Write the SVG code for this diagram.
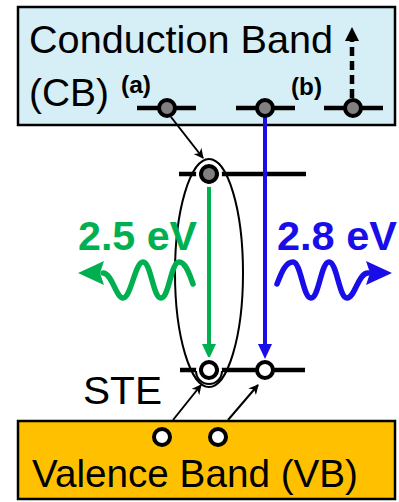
<svg xmlns="http://www.w3.org/2000/svg" width="399" height="502" viewBox="0 0 399 502">
<style>
.lbl{font-family:"Liberation Sans",Arial,sans-serif;fill:#000}
.big{font-size:39px}
.sm{font-size:24px;font-weight:bold}
.ev{font-family:"Liberation Sans",Arial,sans-serif;font-size:40px;font-weight:bold}
.lvl{stroke:#000;stroke-width:4.5;fill:none}
.e{fill:#808080;stroke:#000;stroke-width:4}
.h{fill:#fff;stroke:#000;stroke-width:4}
.halo{fill:none;stroke:#fff;stroke-width:3}
.thin{stroke:#000;stroke-width:2;fill:none}
</style>
<defs>
<marker id="ah" viewBox="0 0 10 10" refX="9" refY="5" markerWidth="5" markerHeight="5" orient="auto" markerUnits="strokeWidth">
<path d="M0,0 L10,5 L0,10 L3,5 Z" fill="#000"/>
</marker>
</defs>
<rect width="399" height="502" fill="#fff"/>
<g id="cb">
<rect x="18" y="7" width="377" height="118" fill="#d6eef5" stroke="#000" stroke-width="2.5"/>
<text class="lbl big" x="29" y="53" textLength="304" lengthAdjust="spacingAndGlyphs">Conduction Band</text>
<text class="lbl big" x="29" y="106" textLength="80" lengthAdjust="spacingAndGlyphs">(CB)</text>
<text class="lbl sm" x="121" y="93" textLength="30" lengthAdjust="spacingAndGlyphs">(a)</text>
<text class="lbl sm" x="291" y="95" textLength="31" lengthAdjust="spacingAndGlyphs">(b)</text>
</g>
<g id="vb">
<rect x="18" y="421" width="377" height="78" fill="#ffc000" stroke="#000" stroke-width="2.5"/>
<text class="lbl big" x="32" y="487" textLength="326" lengthAdjust="spacingAndGlyphs">Valence Band (VB)</text>
</g>
<g id="levels">
<line class="lvl" x1="137" y1="108" x2="196" y2="108"/>
<line class="lvl" x1="236" y1="108" x2="295" y2="108"/>
<line class="lvl" x1="324" y1="108" x2="383" y2="108"/>
<line class="lvl" x1="179" y1="174" x2="306" y2="174"/>
<line class="lvl" x1="180" y1="370" x2="305" y2="370"/>
</g>
<g id="ste-label"><text class="lbl big" x="83" y="404" textLength="79" lengthAdjust="spacingAndGlyphs">STE</text></g>
<g id="exciton">
<ellipse cx="209" cy="273" rx="34" ry="114" class="thin"/>
</g>
<g id="connectors">
<line x1="209" y1="183" x2="209" y2="346" stroke="#00b050" stroke-width="4"/>
<polygon points="202,344 216,344 209,359" fill="#00b050"/>
<line x1="265" y1="116" x2="265" y2="346" stroke="#1a0ee8" stroke-width="4"/>
<polygon points="258,344 272,344 265,359" fill="#1a0ee8"/>
<line x1="352" y1="98" x2="352" y2="40" stroke="#000" stroke-width="4.5" stroke-dasharray="9,5"/>
<polygon points="345,41 359,41 352,27" fill="#000"/>
<line class="thin" x1="171" y1="117" x2="203" y2="158" marker-end="url(#ah)"/>
<line class="thin" x1="173" y1="420" x2="201" y2="385" marker-end="url(#ah)"/>
<line class="thin" x1="228" y1="420" x2="258" y2="385" marker-end="url(#ah)"/>
</g>
<g id="carriers">
<circle class="e" cx="167" cy="108" r="8"/>
<circle class="e" cx="265" cy="108" r="8"/>
<circle class="e" cx="353" cy="108" r="8"/>
<circle class="halo" cx="209" cy="174" r="11.5"/>
<circle class="e" cx="209" cy="174" r="8"/>
<circle class="halo" cx="209" cy="370" r="11.5"/>
<path class="thin" d="M196,371 A13,13 0 0 0 222,371" stroke-width="1.6"/>
<circle class="h" cx="209" cy="370" r="8"/>
<circle class="h" cx="265" cy="370" r="8"/>
<circle class="h" cx="162" cy="437" r="8"/>
<circle class="h" cx="218" cy="437" r="8"/>
</g>
<g id="photon-green">
<text class="ev" x="78" y="250" fill="#00b050" textLength="119" lengthAdjust="spacingAndGlyphs">2.5 eV</text>
<path d="M103,273 C112,273 116,298 123,298 C131,298 135,262 143,262 C151,262 153,298 161,298 C169,298 171,262 179,262 C186,262 190,276 193,284" fill="none" stroke="#00b050" stroke-width="5.5" stroke-linecap="round"/>
<polygon points="78,273 104,261 100,273 104,285" fill="#00b050"/>
</g>
<g id="photon-blue">
<text class="ev" x="277" y="250" fill="#1a0ee8" textLength="120" lengthAdjust="spacingAndGlyphs">2.8 eV</text>
<path d="M277,284 C281,274 285,262 293,262 C301,262 303,298 311,298 C319,298 321,262 329,262 C337,262 339,298 347,298 C355,298 358,273 368,273" fill="none" stroke="#1a0ee8" stroke-width="5.5" stroke-linecap="round"/>
<polygon points="392,273 366,261 370,273 366,285" fill="#1a0ee8"/>
</g>
</svg>
